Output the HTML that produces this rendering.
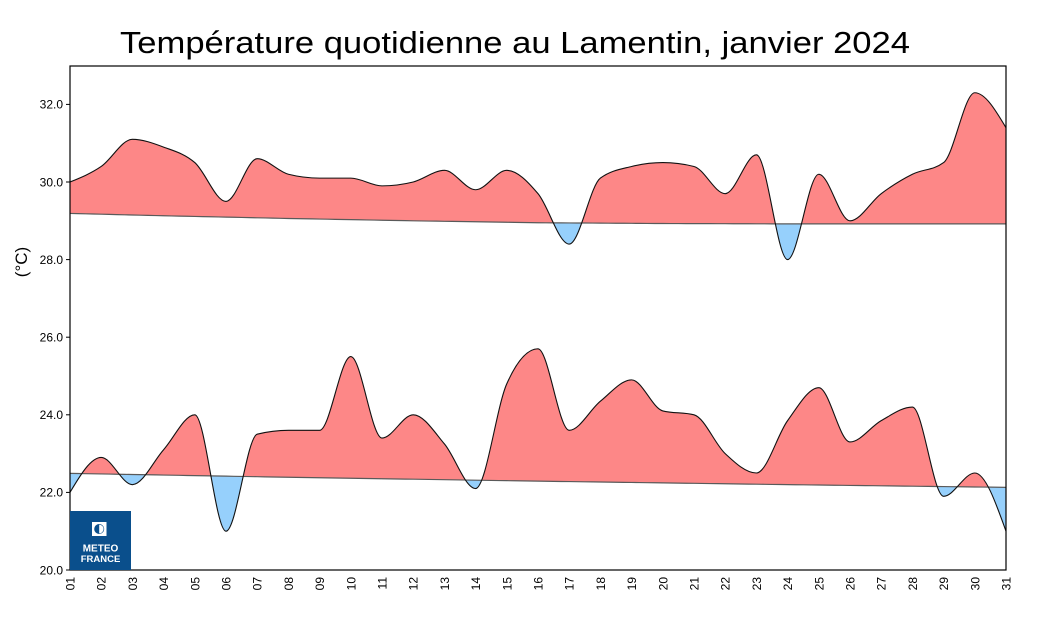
<!DOCTYPE html>
<html><head><meta charset="utf-8">
<style>
html,body{margin:0;padding:0;background:#fff;}
svg{display:block;}
</style></head>
<body>
<svg id="c" width="1044" height="626" viewBox="0 0 1044 626" xmlns="http://www.w3.org/2000/svg">
<rect x="0" y="0" width="1044" height="626" fill="#fff"/>
<text x="120" y="53" font-family="Liberation Sans, sans-serif" font-size="31" fill="#000" textLength="790" lengthAdjust="spacingAndGlyphs">Température quotidienne au Lamentin, janvier 2024</text>
<defs>
<clipPath id="abovMax"><path id="cpAM" d=""/></clipPath>
<clipPath id="belMax"><path id="cpBM" d=""/></clipPath>
<clipPath id="abovMin"><path id="cpAm" d=""/></clipPath>
<clipPath id="belMin"><path id="cpBm" d=""/></clipPath>
<clipPath id="plot"><rect x="70" y="66" width="936" height="504"/></clipPath>
</defs>
<g clip-path="url(#plot)">
<path id="maxRed" d="" fill="#fd8787" clip-path="url(#abovMax)"/>
<path id="maxBlue" d="" fill="#96d0fc" clip-path="url(#belMax)"/>
<path id="minRed" d="" fill="#fd8787" clip-path="url(#abovMin)"/>
<path id="minBlue" d="" fill="#96d0fc" clip-path="url(#belMin)"/>
<path id="nMax" d="" fill="none" stroke="#5a5a5a" stroke-width="1.2"/>
<path id="nMin" d="" fill="none" stroke="#5a5a5a" stroke-width="1.2"/>
<path id="cMax" d="" fill="none" stroke="#111" stroke-width="1.1"/>
<path id="cMin" d="" fill="none" stroke="#111" stroke-width="1.1"/>
</g>
<rect x="70" y="66" width="936" height="504" fill="none" stroke="#000" stroke-width="1.2"/>
<g id="yt" font-family="Liberation Sans, sans-serif" font-size="12" fill="#000" text-anchor="end"></g>
<g id="xt" font-family="Liberation Sans, sans-serif" font-size="12" fill="#000" text-anchor="end"></g>
<text transform="translate(27,262) rotate(-90)" font-family="Liberation Sans, sans-serif" font-size="17" text-anchor="middle" fill="#000">(°C)</text>
<!-- logo -->
<rect x="70" y="511" width="61" height="59" fill="#0a4f8c"/>
<rect x="92" y="522" width="14.5" height="14" fill="#fff"/>
<circle cx="99.2" cy="529" r="5" fill="#0a4f8c"/>
<path d="M99.2 524.6 A4.4 4.4 0 0 1 99.2 533.4 Z" fill="#fff"/>
<text x="100.5" y="551.5" font-family="Liberation Sans, sans-serif" font-size="10" font-weight="bold" fill="#fff" text-anchor="middle">METEO</text>
<text x="100.5" y="562" font-family="Liberation Sans, sans-serif" font-size="9.5" font-weight="bold" fill="#fff" text-anchor="middle">FRANCE</text>
</svg>
<script>
(function(){
var X0=70,DX=31.2,Y0=570,SC=38.8;
function px(d){return X0+DX*(d-1);}
function py(t){return Y0-SC*(t-20);}
var mx=[30.0,30.4,31.1,30.9,30.5,29.5,30.6,30.2,30.1,30.1,29.9,30.0,30.3,29.8,30.3,29.7,28.4,30.1,30.4,30.5,30.4,29.7,30.7,28.0,30.2,29.0,29.7,30.2,30.5,32.3,31.4];
var mn=[22.0,22.9,22.2,23.1,24.0,21.0,23.5,23.6,23.6,25.5,23.4,24.0,23.25,22.1,24.8,25.7,23.6,24.35,24.9,24.1,24.0,23.0,22.5,23.85,24.7,23.3,23.85,24.2,21.9,22.5,21.0];
function lin(pts,d){for(var i=0;i<pts.length-1;i++){if(d>=pts[i][0]&&d<=pts[i+1][0]){var f=(d-pts[i][0])/(pts[i+1][0]-pts[i][0]);return pts[i][1]+f*(pts[i+1][1]-pts[i][1]);}}return pts[pts.length-1][1];}
var nmxP=[[1,29.19],[4,29.13],[8,29.06],[12,29.0],[16,28.95],[20,28.93],[24,28.92],[31,28.92]];
var nmnP=[[1,22.49],[8,22.39],[16,22.29],[24,22.2],[31,22.13]];
function pts(arr){var p=[];for(var i=0;i<arr.length;i++)p.push([px(i+1),py(arr[i])]);return p;}
function dense(P){var p=[];for(var d=1;d<=31;d+=0.25)p.push([px(d),py(lin(P,d))]);return p;}
function sgn(v){return v<0?-1:1;}
function mono(p){
var n=p.length,h=[],s=[],m=[];
for(var i=0;i<n-1;i++){h[i]=p[i+1][0]-p[i][0];s[i]=(p[i+1][1]-p[i][1])/h[i];}
for(var i=1;i<n-1;i++){var pp=(s[i-1]*h[i]+s[i]*h[i-1])/(h[i-1]+h[i]);
m[i]=(sgn(s[i-1])+sgn(s[i]))*Math.min(Math.abs(s[i-1]),Math.abs(s[i]),0.5*Math.abs(pp))||0;}
m[0]=(3*s[0]-m[1])/2;m[n-1]=(3*s[n-2]-m[n-2])/2;
var str="M"+p[0][0].toFixed(2)+" "+p[0][1].toFixed(2);
for(var i=0;i<n-1;i++){var dx=h[i]/3;
str+="C"+(p[i][0]+dx).toFixed(2)+" "+(p[i][1]+m[i]*dx).toFixed(2)+" "+(p[i+1][0]-dx).toFixed(2)+" "+(p[i+1][1]-m[i+1]*dx).toFixed(2)+" "+p[i+1][0].toFixed(2)+" "+p[i+1][1].toFixed(2);}
return str;}
function poly(p,move){var s="";for(var i=0;i<p.length;i++)s+=(i==0&&move?"M":"L")+p[i][0].toFixed(2)+" "+p[i][1].toFixed(2);return s;}
function setup(arr,NP,idR,idB,idC,idN,cpA,cpB){
var p=pts(arr),n=dense(NP);var nr=n.slice().reverse();
var curve=mono(p);
var area=curve+poly(nr,false)+"Z";
document.getElementById(idR).setAttribute("d",area);
document.getElementById(idB).setAttribute("d",area);
document.getElementById(idC).setAttribute("d",curve);
document.getElementById(idN).setAttribute("d",poly(n,true));
document.getElementById(cpA).setAttribute("d",poly(n,true)+"L1010 "+n[n.length-1][1]+"L1010 0L60 0L60 "+n[0][1]+"Z");
document.getElementById(cpB).setAttribute("d",poly(n,true)+"L1010 "+n[n.length-1][1]+"L1010 626L60 626L60 "+n[0][1]+"Z");
}
setup(mx,nmxP,"maxRed","maxBlue","cMax","nMax","cpAM","cpBM");
setup(mn,nmnP,"minRed","minBlue","cMin","nMin","cpAm","cpBm");
var ns="http://www.w3.org/2000/svg";
var yt=document.getElementById("yt"),xt=document.getElementById("xt");
for(var v=20;v<=32;v+=2){var y=py(v);
var l=document.createElementNS(ns,"line");l.setAttribute("x1",66);l.setAttribute("x2",70);l.setAttribute("y1",y);l.setAttribute("y2",y);l.setAttribute("stroke","#000");yt.appendChild(l);
var t=document.createElementNS(ns,"text");t.setAttribute("x",63);t.setAttribute("y",y+4.3);t.textContent=v.toFixed(1);yt.appendChild(t);}
for(var d=1;d<=31;d++){var x=px(d);var t=document.createElementNS(ns,"text");
t.setAttribute("transform","translate("+(x+4.5)+",577) rotate(-90)");t.textContent=(d<10?"0":"")+d;xt.appendChild(t);}
})();
</script>
</body></html>
